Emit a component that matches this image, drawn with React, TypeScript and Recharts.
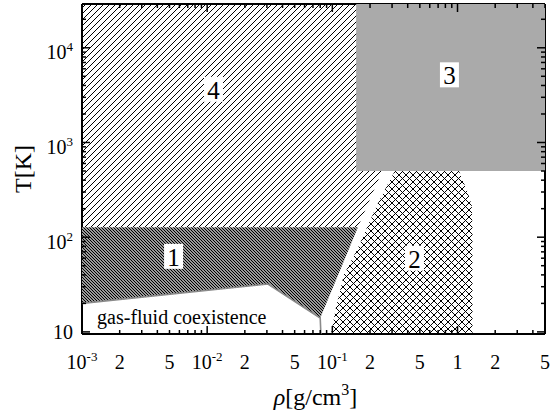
import React from 'react'
import { ComposedChart, Scatter, XAxis, YAxis } from 'recharts'

// phase regions, [rho g/cm3, T K]
const region4 = [[0.001, 29000], [0.3, 29000], [0.25, 500], [0.16, 127], [0.001, 127]]
const region1 = [[0.001, 127], [0.16, 127], [0.08, 14], [0.0306, 32], [0.001, 20]]
const region1Edge = [[0.001, 20], [0.0306, 32], [0.08, 14], [0.081, 9.5]]
const region2 = [
  [0.316, 500], [1.03, 500], [1.1, 400], [1.19, 313], [1.3, 218], [1.32, 118], [1.32, 9.5],
  [0.0975, 9.5], [0.107, 18.2], [0.124, 40.7], [0.157, 73], [0.227, 218], [0.288, 400],
]
const region3 = [[0.155, 29000], [5, 29000], [5, 500], [0.155, 500]]

const regionLabels = ['4', '3', '1', '2']
const regionLabelRho = [0.01123, 0.862, 0.00539, 0.453]
const regionLabelT = [3600, 5120, 62, 59.3]

const noteText = 'gas-fluid coexistence'
const noteRho = 0.00132
const noteT = 12.06

const rhoTicks = [
  0.001, 0.002, 0.003, 0.004, 0.005, 0.006, 0.007, 0.008, 0.009,
  0.01, 0.02, 0.03, 0.04, 0.05, 0.06, 0.07, 0.08, 0.09,
  0.1, 0.2, 0.3, 0.4, 0.5, 0.6, 0.7, 0.8, 0.9,
  1, 2, 3, 4, 5,
]
const rhoDecades = [0.001, 0.01, 0.1, 1]
const rhoLabelValues = [0.001, 0.002, 0.005, 0.01, 0.02, 0.05, 0.1, 0.2, 0.5, 1, 2, 5]
const rhoLabelBase = ['10', '2', '5', '10', '2', '5', '10', '2', '5', '1', '2', '5']
const rhoLabelSup = ['-3', '', '', '-2', '', '', '-1', '', '', '', '', '']

const tTicks = [
  10, 20, 30, 40, 50, 60, 70, 80, 90,
  100, 200, 300, 400, 500, 600, 700, 800, 900,
  1000, 2000, 3000, 4000, 5000, 6000, 7000, 8000, 9000,
  10000, 20000,
]
const tDecades = [10, 100, 1000, 10000]
const tLabelBase = ['10', '10', '10', '10']
const tLabelSup = ['', '2', '3', '4']

const FONT = '"Liberation Serif", "Times New Roman", serif'

const toPts = (arr: number[][]) => arr.map(([rho, T]) => ({ rho, T }))

// hatch fills, kept inside the chart svg
const patterns = (
  <defs>
    <pattern id='hatch4' patternUnits='userSpaceOnUse' width={6} height={6}>
      <path d='M-1,1 L1,-1 M0,6 L6,0 M5,7 L7,5' stroke='#000' strokeWidth={1} shapeRendering='crispEdges' />
    </pattern>
    <pattern id='hatch1' patternUnits='userSpaceOnUse' width={3} height={3}>
      <rect width={3} height={3} fill='#9a9a9a' />
      <path d='M-1,2 L1,4 M0,0 L3,3 M2,-1 L4,1' stroke='#000' strokeWidth={1} shapeRendering='crispEdges' />
    </pattern>
    <pattern id='cross2' patternUnits='userSpaceOnUse' width={7} height={7}>
      <path d='M0,0 L7,7 M0,7 L7,0' stroke='#000' strokeWidth={1.2} shapeRendering='crispEdges' />
    </pattern>
  </defs>
)

const polygon = (fill: string, defs?: React.ReactNode) => (props: any) => {
  const pts = props.points as { x: number, y: number }[]
  const d = pts.map((p, i) => `${i ? 'L' : 'M'}${p.x},${p.y}`).join(' ') + ' Z'
  return <g>{defs}<path d={d} fill={fill} stroke='none' /></g>
}

const polyline = (props: any) => {
  const pts = props.points as { x: number, y: number }[]
  const d = pts.map((p, i) => `${i ? 'L' : 'M'}${p.x},${p.y}`).join(' ')
  return <path d={d} fill='none' stroke='#8a8a8a' strokeWidth={1.6} />
}

const noDot = () => <g />

const boxLabel = (props: any) => {
  const { cx, cy, payload } = props
  return (
    <g>
      <rect x={cx - 9.5} y={cy - 13} width={19} height={25} fill='#fff' />
      <text x={cx} y={cy + 9} textAnchor='middle' fontFamily={FONT} fontSize={25} fill='#000'>{payload.text}</text>
    </g>
  )
}

const noteLabel = (props: any) => (
  <text x={props.cx} y={props.cy} fontFamily={FONT} fontSize={20} fill='#000'>{props.payload.text}</text>
)

const BottomTick = (p: any) => {
  const v = p.payload.value
  const len = rhoDecades.includes(v) ? 8 : 4
  const i = rhoLabelValues.indexOf(v)
  return (
    <g>
      <line x1={p.x} x2={p.x} y1={p.y} y2={p.y - len} stroke='#000' strokeWidth={1.5} />
      {i >= 0 && (
        <text x={p.x} y={p.y + 35} textAnchor='middle' fontFamily={FONT} fontSize={20} fill='#000'>
          {rhoLabelBase[i]}
          {rhoLabelSup[i] && <tspan dy={-8} fontSize={13}>{rhoLabelSup[i]}</tspan>}
        </text>
      )}
    </g>
  )
}

const TopTick = (p: any) => {
  const len = rhoDecades.includes(p.payload.value) ? 8 : 4
  return <line x1={p.x} x2={p.x} y1={p.y} y2={p.y + len} stroke='#000' strokeWidth={1.5} />
}

const LeftTick = (p: any) => {
  const v = p.payload.value
  const i = tDecades.indexOf(v)
  const len = i >= 0 ? 8 : 4
  return (
    <g>
      <line x1={p.x} x2={p.x + len} y1={p.y} y2={p.y} stroke='#000' strokeWidth={1.5} />
      {i >= 0 && (
        <text x={p.x - 9} y={p.y + (tLabelSup[i] ? 11.5 : 7)} textAnchor='end' fontFamily={FONT} fontSize={20} fill='#000'>
          {tLabelBase[i]}
          {tLabelSup[i] && <tspan dy={-8} fontSize={13}>{tLabelSup[i]}</tspan>}
        </text>
      )}
    </g>
  )
}

const RightTick = (p: any) => {
  const len = tDecades.includes(p.payload.value) ? 8 : 4
  return <line x1={p.x} x2={p.x - len} y1={p.y} y2={p.y} stroke='#000' strokeWidth={1.5} />
}

const YTitle = (p: any) => {
  const vb = p.viewBox
  const cy = vb.y + vb.height / 2
  return (
    <text transform={`translate(${vb.x + 31},${cy}) rotate(-90)`} textAnchor='middle' fontFamily={FONT} fontSize={24} fill='#000'>
      T[K]
    </text>
  )
}

const XTitle = (p: any) => {
  const vb = p.viewBox
  return (
    <text x={vb.x + vb.width / 2 + 2} y={vb.y + 71} textAnchor='middle' fontFamily={FONT} fontSize={24} fill='#000'>
      <tspan fontStyle='italic'>ρ</tspan>[g/cm<tspan dy={-10} fontSize={16}>3</tspan><tspan dy={10}>]</tspan>
    </text>
  )
}

const axisLine = { stroke: '#000', strokeWidth: 2 }

export default function App() {
  const labels = regionLabels.map((text, i) => ({ rho: regionLabelRho[i], T: regionLabelT[i], text }))
  const note = [{ rho: noteRho, T: noteT, text: noteText }]

  return (
    <div style={{ position: 'absolute', left: 0, top: 0 }}>
      <ComposedChart width={552} height={417} margin={{ top: 3, right: 6, bottom: 0, left: 0 }}>
        <Scatter data={toPts(region4)} line={polygon('url(#hatch4)', patterns)} shape={noDot} isAnimationActive={false} />
        <Scatter data={toPts(region1)} line={polygon('url(#hatch1)')} shape={noDot} isAnimationActive={false} />
        <Scatter data={toPts(region1Edge)} line={polyline} shape={noDot} isAnimationActive={false} />
        <Scatter data={toPts(region2)} line={polygon('url(#cross2)')} shape={noDot} isAnimationActive={false} />
        <Scatter data={toPts(region3)} line={polygon('#aaaaaa')} shape={noDot} isAnimationActive={false} />
        <Scatter data={labels} shape={boxLabel} isAnimationActive={false} />
        <Scatter data={note} shape={noteLabel} isAnimationActive={false} />
        <XAxis
          dataKey='rho' type='number' scale='log' domain={[0.001, 5]} allowDataOverflow
          ticks={rhoTicks} interval={0} tick={BottomTick} tickLine={false} tickSize={0} tickMargin={0}
          height={83} axisLine={axisLine} label={XTitle}
        />
        <XAxis
          xAxisId='top' orientation='top' dataKey='rho' type='number' scale='log' domain={[0.001, 5]} allowDataOverflow
          ticks={rhoTicks} interval={0} tick={TopTick} tickLine={false} tickSize={0} tickMargin={0}
          height={1} axisLine={axisLine}
        />
        <YAxis
          dataKey='T' type='number' scale='log' domain={[9.5, 29000]} allowDataOverflow
          ticks={tTicks} interval={0} tick={LeftTick} tickLine={false} tickSize={0} tickMargin={0}
          width={82} axisLine={axisLine} label={YTitle}
        />
        <YAxis
          yAxisId='right' orientation='right' dataKey='T' type='number' scale='log' domain={[9.5, 29000]} allowDataOverflow
          ticks={tTicks} interval={0} tick={RightTick} tickLine={false} tickSize={0} tickMargin={0}
          width={1} axisLine={axisLine}
        />
      </ComposedChart>
    </div>
  )
}
